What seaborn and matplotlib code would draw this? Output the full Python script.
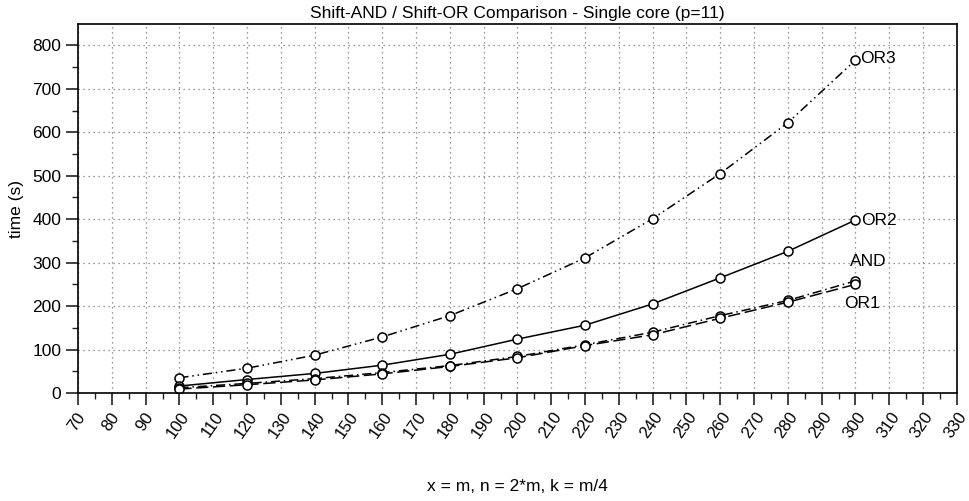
import numpy as np
import pandas as pd
import matplotlib
matplotlib.use("Agg")
import matplotlib.pyplot as plt
import matplotlib.transforms as mtransforms
from matplotlib.ticker import MultipleLocator
import seaborn as sns

# --- data ------------------------------------------------------------------
m_values = [100, 120, 140, 160, 180, 200, 220, 240, 260, 280, 300]
or3_time = [35, 57, 87, 129, 178, 240, 311, 401, 505, 622, 766]
or2_time = [16, 31, 45, 64, 89, 124, 156, 205, 265, 326, 398]
and_time = [12, 22, 33, 47, 63, 84, 111, 140, 178, 213, 258]
or1_time = [9, 19, 30, 44, 61, 81, 109, 134, 172, 209, 250]

series_names = ["OR3", "OR2", "AND", "OR1"]
series_values = [or3_time, or2_time, and_time, or1_time]

TITLE = "Shift-AND / Shift-OR Comparison - Single core (p=11)"
XLABEL = "x = m, n = 2*m, k = m/4"
YLABEL = "time (s)"

# line style and label placement per series
line_styles = {
    "OR3": (0, (6, 2.5, 1, 2.5, 1, 2.5)),
    "OR2": "-",
    "AND": (0, (6, 2.5, 1, 2.5)),
    "OR1": (0, (8, 3)),
}
label_offsets = {
    "OR3": ((3, 1.5), "left"),
    "OR2": ((4, 0), "left"),
    "AND": ((9, 14), "center"),
    "OR1": ((5, -14), "center"),
}

sns.set_theme(style="ticks")
plt.rcParams["font.family"] = ["Liberation Sans", "DejaVu Sans"]
plt.rcParams["font.size"] = 12
for key in ["text.color", "axes.labelcolor", "xtick.color", "ytick.color"]:
    plt.rcParams[key] = "black"

fig = plt.figure(figsize=(9.69, 5.01), dpi=100)
ax = fig.add_axes([0.0805, 0.2156, 0.9070, 0.7364])

for name, vals in zip(series_names, series_values):
    sns.lineplot(
        x=m_values, y=vals, ax=ax, color="black", linewidth=1.1,
        linestyle=line_styles[name], marker="o", markersize=6.5,
        markerfacecolor="white", markeredgecolor="black", markeredgewidth=1.1,
        legend=False,
    )
    (dx, dy), ha = label_offsets[name]
    ax.annotate(name, (m_values[-1], vals[-1]), xytext=(dx, dy),
                textcoords="offset points", ha=ha, va="center",
                fontsize=12.5, color="black")

ax.set_xlim(70, 330)
ax.set_ylim(0, 849)
ax.xaxis.set_major_locator(MultipleLocator(10))
ax.xaxis.set_minor_locator(MultipleLocator(5))
ax.yaxis.set_major_locator(MultipleLocator(100))
ax.yaxis.set_minor_locator(MultipleLocator(50))

ax.tick_params(which="major", length=8.5, width=1.2, labelsize=12.5, color="#222222")
ax.tick_params(which="minor", length=4.5, width=1.0, color="#222222")
ax.tick_params(axis="x", labelsize=12)
shift = mtransforms.ScaledTranslation(-1 / 100, 0, fig.dpi_scale_trans)
for lbl in ax.get_xticklabels():
    lbl.set_rotation(55)
    lbl.set_ha("center")
    lbl.set_transform(lbl.get_transform() + shift)

ax.grid(which="major", linestyle=(0, (1, 3)), color="#777777", linewidth=0.9)
for sp in ax.spines.values():
    sp.set_color("black")
    sp.set_linewidth(1.2)

ax.set_title(TITLE, fontsize=12.5, pad=4)
ax.set_xlabel(XLABEL, fontsize=12.5)
ax.set_ylabel(YLABEL, fontsize=12.5)
ax.xaxis.set_label_coords(0.5, -0.233)
ax.yaxis.set_label_coords(-0.062, 0.5)
ax.xaxis.label.set_va("top")

fig.savefig("out.png", dpi=100)
